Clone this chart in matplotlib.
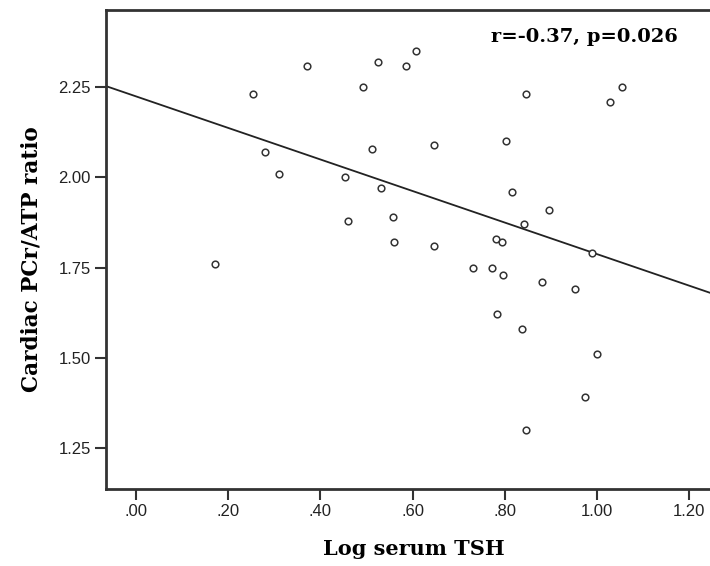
import matplotlib
matplotlib.use("Agg")
from matplotlib import pyplot as plt

# Log serum TSH vs cardiac PCr/ATP ratio
log_tsh = [0.171, 0.254, 0.279, 0.310, 0.370, 0.453, 0.459, 0.492, 0.513, 0.524,
           0.531, 0.558, 0.560, 0.585, 0.607, 0.646, 0.646, 0.730, 0.772, 0.780,
           0.782, 0.793, 0.796, 0.802, 0.815, 0.837, 0.841, 0.845, 0.846, 0.880,
           0.896, 0.952, 0.973, 0.989, 0.999, 1.028, 1.055]
pcr_atp = [1.76, 2.23, 2.07, 2.01, 2.31, 2.00, 1.88, 2.25, 2.08, 2.32,
           1.97, 1.89, 1.82, 2.31, 2.35, 2.09, 1.81, 1.75, 1.75, 1.83,
           1.62, 1.82, 1.73, 2.10, 1.96, 1.58, 1.87, 2.23, 1.30, 1.71,
           1.91, 1.69, 1.39, 1.79, 1.51, 2.21, 2.25]

fit_x = [-0.065, 1.245]
fit_y = [2.253, 1.680]

xticks = [0.0, 0.2, 0.4, 0.6, 0.8, 1.0, 1.2]
xtick_labels = [".00", ".20", ".40", ".60", ".80", "1.00", "1.20"]
yticks = [1.25, 1.50, 1.75, 2.00, 2.25]
ytick_labels = ["1.25", "1.50", "1.75", "2.00", "2.25"]

fig = plt.figure(figsize=(7.1, 5.66), dpi=100)
ax = fig.add_axes([106 / 710, 77 / 566, 604 / 710, 479 / 566])

ax.plot(fit_x, fit_y, color="#222222", linewidth=1.3)
ax.plot(log_tsh, pcr_atp, linestyle="none", marker="o", markersize=4.8,
        markerfacecolor="white", markeredgecolor="#333333", markeredgewidth=1.1)

ax.set_xlim(-0.065, 1.245)
ax.set_ylim(1.136, 2.464)
ax.set_xticks(xticks)
ax.set_xticklabels(xtick_labels)
ax.set_yticks(yticks)
ax.set_yticklabels(ytick_labels)

for s in ["left", "bottom", "top"]:
    ax.spines[s].set_linewidth(2)
    ax.spines[s].set_color("#333333")
ax.spines["right"].set_visible(False)

ax.tick_params(direction="out", length=8, width=1.5, color="#333333", pad=3,
               labelsize=12, labelcolor="#222222")
for lab in ax.get_xticklabels() + ax.get_yticklabels():
    lab.set_family("Liberation Sans")

ax.set_xlabel("Log serum TSH", family="DejaVu Serif", fontweight="bold",
              fontsize=15, labelpad=14, x=0.51)
ax.set_ylabel("Cardiac PCr/ATP ratio", family="DejaVu Serif", fontweight="bold",
              fontsize=15.5, labelpad=11, y=0.48)

ax.text(0.947, 0.943, "r=-0.37, p=0.026", transform=ax.transAxes, ha="right",
        va="center", family="DejaVu Serif", fontweight="bold", fontsize=14)

fig.savefig("out.png", dpi=100)
